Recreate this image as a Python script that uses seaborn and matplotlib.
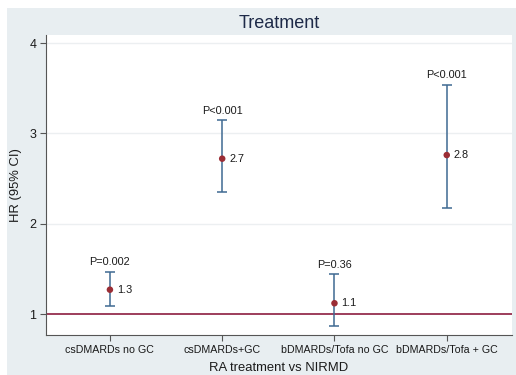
import matplotlib
matplotlib.use("Agg")
import matplotlib.pyplot as plt
from matplotlib.patches import Rectangle
import seaborn as sns
import pandas as pd
import numpy as np

categories = ["csDMARDs no GC", "csDMARDs+GC", "bDMARDs/Tofa no GC", "bDMARDs/Tofa + GC"]
hr = [1.27, 2.72, 1.12, 2.76]
ci_low = [1.09, 2.35, 0.87, 2.17]
ci_high = [1.47, 3.15, 1.44, 3.54]
hr_labels = ["1.3", "2.7", "1.1", "2.8"]
p_labels = ["P=0.002", "P<0.001", "P=0.36", "P<0.001"]
y_ticks = [1, 2, 3, 4]

sns.set_theme(style="white")
plt.rcParams['font.family'] = ['Liberation Sans', 'DejaVu Sans']

bg = "#e8eef1"
fig = plt.figure(figsize=(5.16, 3.75), dpi=100, facecolor="white")
fig.patches.append(Rectangle((7 / 516, -0.1), 1.2, 1.1 - 8 / 375,
                             transform=fig.transFigure, facecolor=bg,
                             edgecolor="none", zorder=-10))
ax = fig.add_axes([0.089, 0.107, 0.903, 0.800])
ax.set_facecolor("white")

pos = np.arange(1, len(categories) + 1)
df = pd.DataFrame({"pos": pos, "hr": hr, "lo": ci_low, "hi": ci_high})

# gridlines
for yv in y_ticks[1:]:
    ax.axhline(yv, color="#eceff1", lw=1.0, zorder=0)
ax.axhline(1, color="#8c1d3f", lw=1.2, zorder=1)

yerr = np.array([df["hr"] - df["lo"], df["hi"] - df["hr"]])
ax.errorbar(df["pos"], df["hr"], yerr=yerr, fmt="none", ecolor="#3f6a92",
            elinewidth=1.1, capsize=3.5, capthick=1.1, zorder=2)
sns.scatterplot(data=df, x="pos", y="hr", color="#9b2d35", s=22, edgecolor="none",
                zorder=3, ax=ax, legend=False)

for i in range(len(categories)):
    ax.annotate(p_labels[i], (pos[i], ci_high[i]), xytext=(0, 3), textcoords="offset points",
                ha="center", va="bottom", fontsize=7.8, color="#1a1a1a")
    ax.annotate(hr_labels[i], (pos[i], hr[i]), xytext=(5, 0), textcoords="offset points",
                ha="left", va="center", fontsize=7.8, color="#1a1a1a")

ax.set_xlim(0.43, 4.58)
ax.set_ylim(0.77, 4.09)
ax.set_xticks(pos)
ax.set_xticklabels(categories, fontsize=7.7, color="#1a1a1a")
ax.set_yticks(y_ticks)
ax.set_yticklabels([str(v) for v in y_ticks], fontsize=9, color="#1a1a1a")
ax.tick_params(axis="both", direction="out", length=4, width=0.8, color="#555555",
               bottom=True, left=True, pad=3)

for s in ["top", "right"]:
    ax.spines[s].set_visible(False)
for s in ["left", "bottom"]:
    ax.spines[s].set_color("#555555")
    ax.spines[s].set_linewidth(0.8)

ax.set_xlabel("RA treatment vs NIRMD", fontsize=9.4, color="#1a1a1a", labelpad=5)
ax.set_ylabel("HR (95% CI)", fontsize=9.4, color="#1a1a1a", labelpad=5)
ax.set_title("Treatment", fontsize=13, color="#1e2a48", pad=5)

fig.savefig("out.png", dpi=100, facecolor="white")
